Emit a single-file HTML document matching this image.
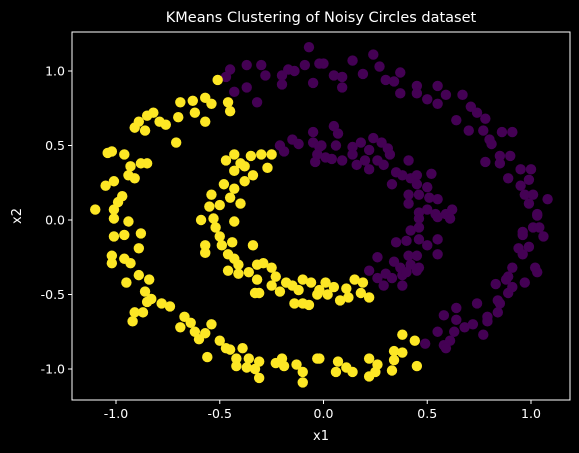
<!DOCTYPE html>
<html><head><meta charset="utf-8"><style>
html,body{margin:0;padding:0;background:#000;}
svg{display:block;font-family:"DejaVu Sans","Liberation Sans",sans-serif;}
</style></head><body>
<svg id="chart" width="579" height="453">
<rect width="579" height="453" fill="#000"/>
<text x="321" y="22" fill="#fff" font-size="14.5" text-anchor="middle">KMeans Clustering of Noisy Circles dataset</text>
<g id="marks"></g>
<g id="axes"></g>
<text x="321" y="440" fill="#fff" font-size="13" text-anchor="middle">x1</text>
<text x="0" y="0" fill="#fff" font-size="13" text-anchor="middle" transform="translate(21,216) rotate(-90)">x2</text>
</svg>
<script>
const xTicks=[-1.0,-0.5,0.0,0.5,1.0];
const yTicks=[-1.0,-0.5,0.0,0.5,1.0];
const tickLabels=["-1.0","-0.5","0.0","0.5","1.0"];
const yellowX=[-0.51,-0.69,-0.63,-0.57,-0.54,-0.46,-0.45,-0.70,-0.62,-0.82,-0.85,-0.79,-0.76,-0.89,-0.91,-0.86,-0.57,-0.71,-1.04,-1.02,-0.96,-0.88,-0.85,-0.93,-0.94,-0.91,-1.05,-1.01,-0.97,-0.99,-1.10,-1.01,-0.94,-1.01,-1.01,-0.96,-0.88,-0.89,-1.02,-1.02,-0.96,-0.93,-0.89,-0.95,-0.84,-0.86,-0.83,-0.85,-0.78,-0.74,-0.91,-0.87,-0.92,-0.67,-0.69,-0.64,-0.62,-0.60,-0.57,-0.54,-0.50,-0.47,-0.45,-0.39,-0.56,-0.42,-0.42,-0.36,-0.37,-0.33,-0.31,-0.31,-0.23,-0.20,-0.19,-0.13,-0.10,-0.10,-0.03,-0.02,0.07,0.06,0.11,0.14,0.22,0.26,0.22,0.25,0.33,0.34,0.34,0.38,0.38,0.44,0.45,
-0.47,-0.43,-0.35,-0.30,-0.25,-0.27,-0.40,-0.38,-0.34,-0.43,-0.38,-0.48,-0.54,-0.45,-0.50,-0.55,-0.40,-0.43,-0.59,-0.53,-0.43,-0.52,-0.50,-0.57,-0.57,-0.49,-0.44,-0.46,-0.43,-0.46,-0.41,-0.41,-0.34,-0.36,-0.32,-0.29,-0.32,-0.25,-0.23,-0.25,-0.21,-0.33,-0.31,-0.18,-0.15,-0.10,-0.12,-0.14,-0.10,-0.07,-0.06,-0.03,0.01,0.05,0.02,0.08,0.12,0.11,0.15,0.19,0.18,0.22,-0.02];
const yellowY=[0.94,0.79,0.80,0.82,0.78,0.79,0.73,0.69,0.72,0.72,0.70,0.66,0.64,0.66,0.62,0.60,0.66,0.52,0.45,0.46,0.44,0.38,0.38,0.36,0.30,0.28,0.23,0.26,0.16,0.12,0.07,0.07,-0.01,0.01,-0.11,-0.10,-0.09,-0.19,-0.24,-0.29,-0.26,-0.29,-0.37,-0.42,-0.40,-0.48,-0.53,-0.55,-0.56,-0.58,-0.62,-0.62,-0.68,-0.65,-0.72,-0.69,-0.75,-0.80,-0.76,-0.70,-0.81,-0.86,-0.87,-0.86,-0.92,-0.93,-0.98,-0.93,-0.99,-1.00,-0.95,-1.06,-0.96,-0.93,-0.98,-0.97,-1.02,-1.09,-0.93,-0.93,-0.95,-1.02,-0.99,-1.02,-0.93,-0.97,-1.05,-1.02,-1.01,-0.94,-0.88,-0.89,-0.77,-0.81,-0.98,
0.40,0.44,0.43,0.44,0.44,0.35,0.38,0.36,0.30,0.33,0.26,0.24,0.17,0.15,0.10,0.09,0.11,0.21,0.00,0.01,-0.01,-0.05,-0.11,-0.17,-0.22,-0.17,-0.15,-0.23,-0.26,-0.34,-0.36,-0.30,-0.17,-0.35,-0.30,-0.29,-0.40,-0.32,-0.38,-0.44,-0.48,-0.49,-0.49,-0.42,-0.44,-0.40,-0.47,-0.56,-0.56,-0.57,-0.42,-0.50,-0.42,-0.45,-0.50,-0.54,-0.52,-0.46,-0.40,-0.42,-0.49,-0.52,-0.47];
const purpleX=[-0.07,-0.45,-0.37,-0.30,-0.47,-0.28,-0.20,-0.17,-0.14,-0.09,-0.02,-0.20,-0.05,-0.43,-0.37,-0.32,0.00,0.05,0.09,0.09,0.14,0.19,0.24,0.27,0.30,0.34,0.37,0.37,0.45,0.45,0.50,0.55,0.55,0.59,0.67,0.64,0.70,0.71,0.74,0.78,0.77,0.86,0.91,0.81,0.80,0.78,0.85,0.90,0.85,0.95,1.00,0.89,0.95,0.99,0.97,1.01,1.08,0.99,1.03,1.03,1.01,1.04,1.06,0.96,0.96,0.94,0.99,0.96,0.91,1.02,1.03,0.89,0.88,0.91,0.97,0.89,0.83,0.84,0.85,0.84,0.74,0.79,0.79,0.77,0.72,0.68,0.64,0.64,0.63,0.61,0.58,0.55,0.58,0.59,0.49,
-0.21,-0.15,-0.12,-0.19,-0.05,-0.05,-0.02,-0.03,-0.04,0.05,0.07,-0.01,0.01,0.04,0.06,0.09,0.14,0.14,0.16,0.18,0.20,0.22,0.22,0.24,0.28,0.26,0.29,0.31,0.32,0.41,0.35,0.33,0.38,0.42,0.45,0.45,0.50,0.52,0.41,0.46,0.51,0.55,0.41,0.46,0.50,0.54,0.59,0.62,0.46,0.55,0.61,0.42,0.46,0.35,0.40,0.46,0.50,0.55,0.55,0.26,0.34,0.41,0.45,0.37,0.42,0.46,0.22,0.26,0.30,0.33,0.38,0.40,0.45,0.29,0.38];
const purpleY=[1.16,1.01,1.04,1.04,0.96,0.97,0.97,1.01,1.00,1.04,1.05,0.91,0.92,0.86,0.89,0.79,1.05,0.97,0.96,0.89,1.07,0.98,1.11,1.03,0.94,0.93,0.99,0.85,0.90,0.85,0.81,0.90,0.78,0.84,0.84,0.67,0.60,0.76,0.72,0.68,0.60,0.59,0.59,0.51,0.54,0.39,0.43,0.43,0.38,0.34,0.34,0.28,0.23,0.27,0.17,0.17,0.14,0.11,0.04,0.03,-0.05,-0.05,-0.11,-0.08,-0.10,-0.19,-0.18,-0.23,-0.32,-0.32,-0.35,-0.38,-0.40,-0.45,-0.42,-0.49,-0.43,-0.54,-0.56,-0.62,-0.56,-0.65,-0.68,-0.77,-0.70,-0.72,-0.59,-0.67,-0.75,-0.81,-0.64,-0.75,-0.84,-0.86,-0.83,
0.50,0.54,0.51,0.46,0.59,0.52,0.49,0.44,0.39,0.63,0.58,0.50,0.42,0.41,0.50,0.40,0.49,0.44,0.37,0.52,0.40,0.34,0.47,0.55,0.52,0.40,0.37,0.48,0.44,0.40,0.32,0.24,0.30,0.28,0.30,0.24,0.22,0.31,0.17,0.17,0.15,0.14,0.11,0.05,0.07,0.04,0.04,0.07,0.01,0.02,0.01,-0.07,-0.05,-0.15,-0.14,-0.13,-0.17,-0.13,-0.23,-0.25,-0.28,-0.24,-0.24,-0.32,-0.30,-0.32,-0.34,-0.39,-0.36,-0.39,-0.37,-0.35,-0.34,-0.44,-0.44];

const L=72,R=570,T=32,B=400;
const sx=v=>323.5+v*207.5;
const sy=v=>220-v*149;
const NS='http://www.w3.org/2000/svg';
const marks=document.getElementById('marks');
const axes=document.getElementById('axes');
function dot(x,y,color,name){
  const c=document.createElementNS(NS,'circle');
  c.setAttribute('cx',sx(x));c.setAttribute('cy',sy(y));c.setAttribute('r',5.2);c.setAttribute('fill',color);
  
  
  marks.appendChild(c);
}
purpleX.forEach((x,i)=>dot(x,purpleY[i],'#440154','cluster-0-point'));
yellowX.forEach((x,i)=>dot(x,yellowY[i],'#fde725','cluster-1-point'));
const frame=document.createElementNS(NS,'rect');
frame.setAttribute('x',L);frame.setAttribute('y',T);frame.setAttribute('width',R-L);frame.setAttribute('height',B-T);
frame.setAttribute('fill','none');frame.setAttribute('stroke','#fff');frame.setAttribute('stroke-width','1');


axes.appendChild(frame);
function line(x1,y1,x2,y2,name){
  const l=document.createElementNS(NS,'line');
  l.setAttribute('x1',x1);l.setAttribute('y1',y1);l.setAttribute('x2',x2);l.setAttribute('y2',y2);
  l.setAttribute('stroke','#fff');l.setAttribute('stroke-width','1');
  
  
  axes.appendChild(l);
}
function label(x,y,txt,anchor,name){
  const t=document.createElementNS(NS,'text');
  t.setAttribute('x',x);t.setAttribute('y',y);t.setAttribute('fill','#fff');t.setAttribute('font-size','12.5');
  t.setAttribute('text-anchor',anchor);t.textContent=txt;
  
  
  axes.appendChild(t);
}
xTicks.forEach((v,i)=>{const x=sx(v);line(x,B,x,B+4,'x-tick');label(x,B+18,tickLabels[i],'middle','x-tick-label');});
yTicks.forEach((v,i)=>{const y=sy(v);line(L-4,y,L,y,'y-tick');label(L-7,y+4.5,tickLabels[i],'end','y-tick-label');});
</script>
</body></html>
